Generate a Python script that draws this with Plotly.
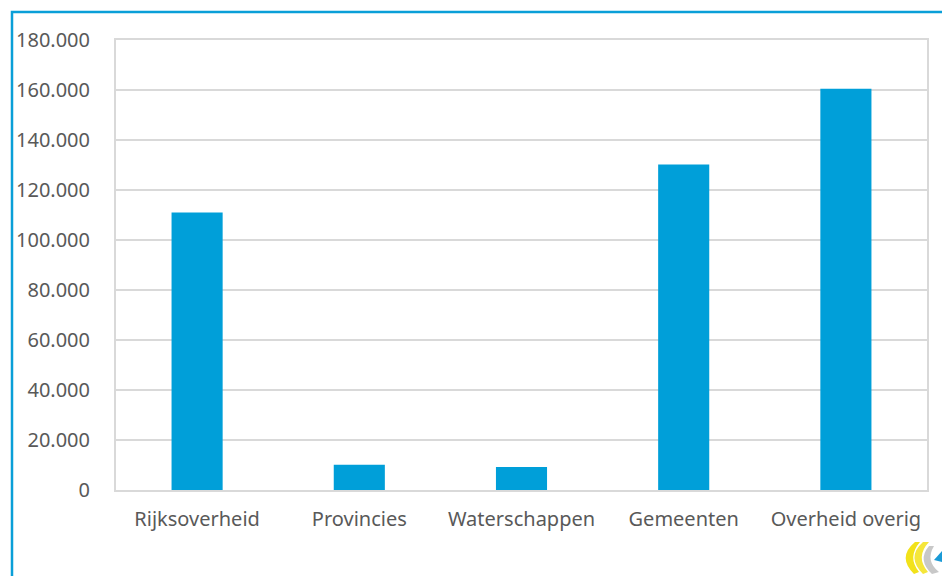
import plotly.graph_objects as go

categories = ["Rijksoverheid", "Provincies", "Waterschappen", "Gemeenten", "Overheid overig"]
values = [111000, 10100, 9200, 130200, 160500]
tick_vals = [0, 20000, 40000, 60000, 80000, 100000, 120000, 140000, 160000, 180000]

W, H = 942, 576
L, R, T, B = 116, 15, 40, 86
pw, ph = W - L - R, H - T - B


def px(X):
    return (X - L) / pw


def py(Y):
    return ((T + ph) - Y) / ph


def path(pts):
    out = []
    for cmd, *xy in pts:
        coords = [f"{px(xy[i]):.5f},{py(xy[i + 1]):.5f}" for i in range(0, len(xy), 2)]
        out.append(cmd + " ".join(coords))
    return " ".join(out)


fig = go.Figure(go.Bar(x=categories, y=values, marker=dict(color="#009fd9", line=dict(width=0)),
                       width=0.315, hoverinfo="skip"))

fig.update_layout(
    width=W, height=H,
    margin=dict(l=L, r=R, t=T, b=B, autoexpand=False),
    paper_bgcolor="white", plot_bgcolor="white",
    separators=",.",
    showlegend=False,
    font=dict(family="Noto Sans", size=20, color="#595959"),
)
fig.update_yaxes(range=[0, 180000], tickvals=tick_vals, tickformat=",.0f",
                 showgrid=True, gridcolor="#d9d9d9", gridwidth=1.5,
                 showline=True, linecolor="#d9d9d9", linewidth=2, mirror=True,
                 ticks="", ticklabelstandoff=20, zeroline=False)
fig.update_xaxes(showline=True, linecolor="#d9d9d9", linewidth=2, mirror=True,
                 ticks="", ticklabelstandoff=10)

# outer blue frame
fig.add_shape(type="rect", xref="paper", yref="paper",
              x0=px(12), x1=px(960), y0=py(600), y1=py(12),
              line=dict(color="#0a9fd8", width=2.5), layer="below")

# small logo in the bottom-right corner
fig.add_shape(type="path", xref="paper", yref="paper", line=dict(width=0), fillcolor="#f2e21a",
              path=path([("M", 915, 542), ("Q", 897, 557, 914, 574), ("L", 919, 572),
                         ("Q", 907, 557, 920, 542), ("Z",)]))
fig.add_shape(type="path", xref="paper", yref="paper", line=dict(width=0), fillcolor="#f5e63a",
              path=path([("M", 923, 542), ("Q", 906, 557, 923, 574), ("L", 928, 572),
                         ("Q", 915, 557, 929, 542), ("Z",)]))
fig.add_shape(type="path", xref="paper", yref="paper", line=dict(width=0), fillcolor="#c8c8c8",
              path=path([("M", 929, 546), ("Q", 917, 560, 932, 574), ("L", 939, 572),
                         ("Q", 925, 561, 934, 546), ("Z",)]))
fig.add_shape(type="path", xref="paper", yref="paper", line=dict(width=0), fillcolor="#1a9ad6",
              path=path([("M", 934, 560), ("L", 942, 551), ("L", 942, 562), ("Z",)]))

fig.write_html("out.html", config={"displayModeBar": False},
               post_script="document.body.style.margin='0px';document.body.style.overflow='hidden';")
